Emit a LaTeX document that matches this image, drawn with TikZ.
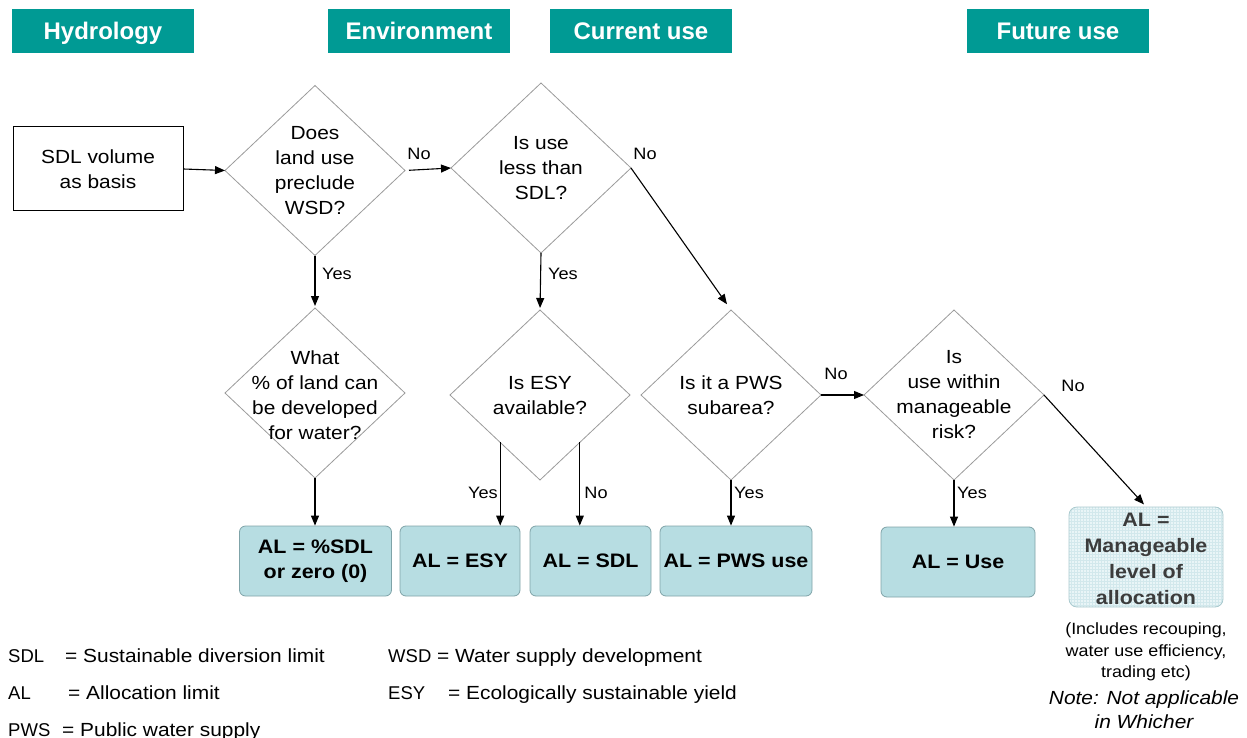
\documentclass[tikz,border=0pt]{standalone}
\usepackage{fontspec}
\setmainfont{Liberation Sans}
\newfontfamily\wide{Liberation Sans}[FakeStretch=1.1]
\newfontfamily\legfont{Liberation Sans}[FakeStretch=1.0]
\usetikzlibrary{shapes.geometric,arrows.meta,calc}
\definecolor{hdrteal}{HTML}{009A94}
\definecolor{diagray}{HTML}{9A9A9A}
\definecolor{resfill}{HTML}{B7DDE2}
\definecolor{resborder}{HTML}{7FA3A8}
\definecolor{mfill}{HTML}{E9F5F7}
\definecolor{mgrid}{HTML}{D2E8EC}
\definecolor{mborder}{HTML}{A9C9CE}
\definecolor{mtext}{HTML}{3C3C3C}
\begin{document}
\begin{tikzpicture}[x=1pt,y=-1pt,
  hdr/.style={fill=hdrteal, text=white, font=\bfseries\fontsize{24}{28}\selectfont, minimum width=182pt, minimum height=44pt, inner sep=0pt, text height=17.2pt, text depth=0pt},
  dec/.style={diamond, draw=diagray, line width=0.8pt, minimum width=180pt, minimum height=170pt, inner sep=0pt, outer sep=0pt},
  dtext/.style={align=center, font=\wide\fontsize{19}{25}\selectfont, inner sep=0pt},
  res/.style={draw=resborder, fill=resfill, rounded corners=6pt, line width=0.8pt, align=center, font=\wide\bfseries\fontsize{19.5}{25}\selectfont, minimum height=70pt, inner sep=0pt},
  arr/.style={-{Triangle[length=10pt,width=8pt]}, line width=1.1pt},
  lbl/.style={font=\wide\fontsize{16.5}{18}\selectfont, inner sep=0pt},
  leg/.style={anchor=base west, font=\legfont\fontsize{18.5}{22}\selectfont, inner sep=0pt},
  legt/.style={anchor=base west, font=\wide\fontsize{19}{22}\selectfont, inner sep=0pt}
]
\useasboundingbox (0,0) rectangle (1247,738);

% headers
\node[hdr] (h1) at (103,31) {Hydrology};
\node[hdr] (h2) at (419,31) {Environment};
\node[hdr] (h3) at (641,31) {Current use};
\node[hdr] (h4) at (1058,31) {Future use};

% start box
\node[draw, line width=1pt, minimum width=170pt, minimum height=84pt, align=center, font=\wide\fontsize{19}{25}\selectfont, inner sep=0pt] (sdl) at (98,169) {SDL volume\\as basis};

% decisions
\node[dec] (d1) at (315,170.5) {};
\node[dtext] (t1) at (315,171) {Does\\land use\\preclude\\WSD?};
\node[dec] (d2) at (541,168) {};
\node[dtext] (t2) at (541,168) {Is use\\less than\\SDL?};
\node[dec] (d3) at (315,393) {};
\node[dtext] (t3) at (315,395) {What\\\% of land can\\be developed\\for water?};
\node[dec] (d4) at (540,395) {};
\node[dtext] (t4) at (540,395) {Is ESY\\available?};
\node[dec] (d5) at (731,395) {};
\node[dtext] (t5) at (731,395) {Is it a PWS\\subarea?};
\node[dec] (d6) at (954,395) {};
\node[dtext] (t6) at (954,395) {Is\\use within\\manageable\\risk?};

% results
\node[res, minimum width=152pt] (b1) at (315.5,561) {AL = \%SDL\\or zero (0)};
\node[res, minimum width=120pt] (b2) at (460,561) {AL = ESY};
\node[res, minimum width=121pt] (b3) at (590.5,561) {AL = SDL};
\node[res, minimum width=152pt] (b4) at (736,561) {AL = PWS use};
\node[res, minimum width=154pt] (b5) at (958,562) {AL = Use};
\node[draw=mborder, fill=mfill, rounded corners=8pt, line width=0.8pt, minimum width=154pt, minimum height=100pt, inner sep=0pt,
  path picture={\draw[mgrid, line width=0.3pt, step=3pt] (path picture bounding box.south west) grid (path picture bounding box.north east);}] (m) at (1146,557) {};
\node[align=center, text=mtext, font=\wide\bfseries\fontsize{19.5}{26}\selectfont, inner sep=0pt] (mt) at (1146,559) {AL =\\Manageable\\level of\\allocation};
\node[align=center, font=\wide\fontsize{16.3}{21.5}\selectfont, inner sep=0pt] (n1) at (1146,652) {(Includes recouping,\\water use efficiency,\\trading etc)};
\node[align=center, font=\wide\itshape\fontsize{19}{24}\selectfont, inner sep=0pt] (n2) at (1144,710) {Note: Not applicable\\in Whicher};

% connectors
\draw[arr] (sdl.east) -- (d1.west);
\draw[arr, shorten <=4pt] (d1.east) -- (d2.west);
\node[lbl] (l1) at (419,154) {No};
\draw[arr, shorten >=7pt] (d2.east) -- (d5.north);
\node[lbl] (l2) at (645,154) {No};
\draw[arr, shorten >=2pt] (d1.south) -- (d3.north);
\node[lbl] (l3) at (337,274) {Yes};
\draw[arr, shorten >=2pt] (d2.south) -- (d4.north);
\node[lbl] (l4) at (563,274) {Yes};
\draw[arr] (d3.south) -- (d3.south |- b1.north);
\draw[arr] (d4.230) -- (d4.230 |- b2.north);
\node[lbl] (l5) at (483,493) {Yes};
\draw[arr] (d4.310) -- (d4.310 |- b3.north);
\node[lbl] (l6) at (596,493) {No};
\draw[arr] (d5.south) -- (d5.south |- b4.north);
\node[lbl] (l7) at (749,493) {Yes};
\draw[arr] (d5.east) -- (d6.west);
\node[lbl] (l8) at (836,374) {No};
\draw[arr] (d6.south) -- (d6.south |- b5.north);
\node[lbl] (l9) at (972,493) {Yes};
\draw[arr, shorten >=3pt] (d6.east) -- (m.north);
\node[lbl] (l10) at (1073,386) {No};

% legend
\node[leg] (k1) at (8,662) {SDL};
\node[legt] (k1t) at (65,662) {= Sustainable diversion limit};
\node[leg] (k2) at (8,699) {AL};
\node[legt] (k2t) at (68,699) {= Allocation limit};
\node[leg] (k3) at (8,736) {PWS};
\node[legt] (k3t) at (62,736) {= Public water supply};
\node[leg] (k4) at (388,662) {WSD};
\node[legt] (k4t) at (437,662) {= Water supply development};
\node[leg] (k5) at (388,699) {ESY};
\node[legt] (k5t) at (448,699) {= Ecologically sustainable yield};
\end{tikzpicture}
\end{document}
